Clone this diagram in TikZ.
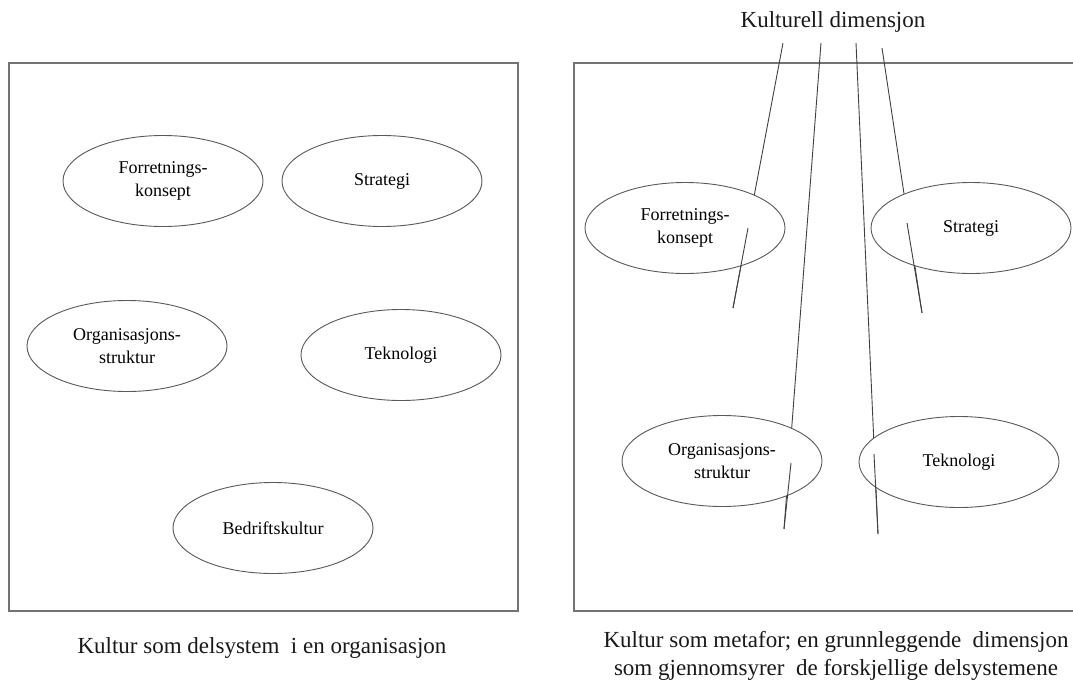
\documentclass[tikz,border=0pt]{standalone}
\usepackage{fontspec}
\setmainfont{Liberation Serif}
\usetikzlibrary{shapes.geometric}

\begin{document}
\begin{tikzpicture}[x=1pt, y=-1pt,
	frame/.style={draw=black!55, line width=1.3pt},
	delsys/.style={ellipse, draw=black!65, line width=0.9pt, fill=white,
		minimum width=200pt, minimum height=91pt, inner sep=0pt, align=center,
		font=\fontsize{18}{23}\selectfont},
	tekst/.style={align=center, text=black!90, font=\fontsize{23}{28}\selectfont},
	dim/.style={draw=black!75, line width=0.9pt}]

\useasboundingbox (0,0) rectangle (1073,680);

% left frame
\draw[frame] (9,63) rectangle (518,611);
\node[delsys] (fk) at (163,181) {Forretnings-\\konsept};
\node[delsys] (st) at (382,181) {Strategi};
\node[delsys] (os) at (127,346) {Organisasjons-\\struktur};
\node[delsys] (te) at (401,355) {Teknologi};
\node[delsys] (bk) at (273,528) {Bedriftskultur};
\node[tekst] (capa) at (262,648) {Kultur som delsystem \ i en organisasjon};

% right frame
\draw[frame] (574,63) rectangle (1090,611);
\node[tekst] (kd) at (833,22) {Kulturell dimensjon};

% ends of the lines
\coordinate (t1) at (783,43);  \coordinate (m1) at (748,228); \coordinate (b1) at (733,308);
\coordinate (t2) at (821,43);  \coordinate (m2) at (791,463); \coordinate (b2) at (784,529);
\coordinate (t3) at (856,43);  \coordinate (m3) at (874,454); \coordinate (b3) at (878,534);
\coordinate (t4) at (882,48);  \coordinate (m4) at (907,223); \coordinate (b4) at (922,313);

% lines behind the ellipses
\foreach \i in {1,...,4}
	\draw[dim] (t\i) -- (b\i);

\node[delsys] (fk2) at (685,228) {Forretnings-\\konsept};
\node[delsys] (st2) at (971,228) {Strategi};
\node[delsys] (os2) at (722,461) {Organisasjons-\\struktur};
\node[delsys] (te2) at (959,462) {Teknologi};

% lines through the ellipses
\foreach \i in {1,...,4}
	\draw[dim] (m\i) -- (b\i);

\node[tekst] (capb) at (836,656) {Kultur som metafor; en grunnleggende \ dimensjon\\som gjennomsyrer \ de forskjellige delsystemene};

\end{tikzpicture}
\end{document}
